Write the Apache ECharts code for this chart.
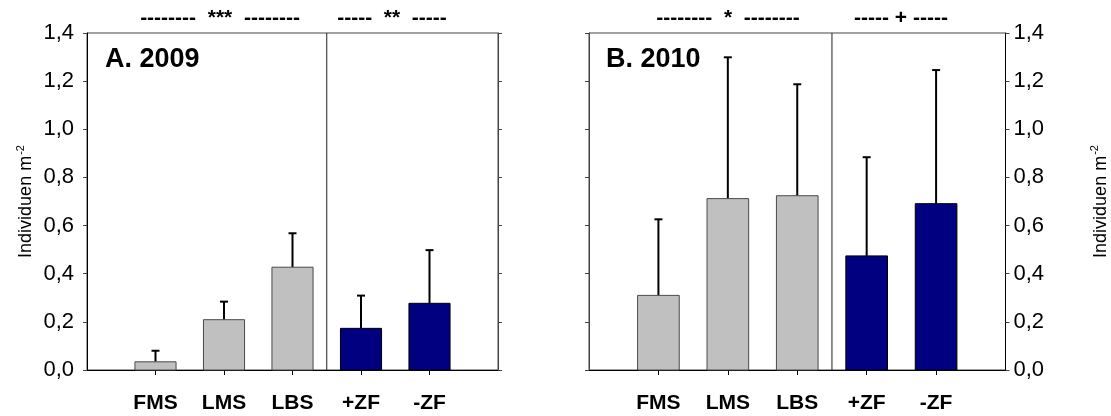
<!DOCTYPE html>
<html>
<head>
<meta charset="utf-8">
<script src="https://cdn.jsdelivr.net/npm/echarts@6/dist/echarts.min.js"></script>
<style>
  html, body { margin: 0; padding: 0; background: #fff; }
  #chart { width: 1111px; height: 416px; }
</style>
</head>
<body>
<div id="chart"></div>
<script>
// Treatment groups (first three: habitat types, last two: with / without fence)
const categories = ['FMS', 'LMS', 'LBS', '+ZF', '-ZF'];

// Mean density (individuals per m²) and standard deviation, 2009
const mean2009 = [0.034, 0.209, 0.427, 0.173, 0.277];
const sd2009   = [0.046, 0.075, 0.141, 0.136, 0.221];

// Mean density and standard deviation, 2010
const mean2010 = [0.310, 0.712, 0.724, 0.474, 0.691];
const sd2010   = [0.316, 0.587, 0.463, 0.410, 0.555];

// Y axis ticks
const yMin = 0, yMax = 1.4, yStep = 0.2;

// Significance markers above each comparison group
const sig2009 = ['--------  ***  --------', '-----  **  -----'];
const sig2010 = ['--------  *  --------', '----- + -----'];

const FONT = '"Liberation Sans", Arial, sans-serif';
const GREY = '#c0c0c0', NAVY = '#000080';
const groupSize = 3; // first three categories belong to the habitat comparison

const chart = echarts.init(document.getElementById('chart'), null, { renderer: 'canvas' });

function toPoints(means, sds) {
  return means.map((m, i) => [i + 1, m, sds[i]]);
}

const fmt = v => v.toFixed(1).replace('.', ',');

function barSeries(grid, yIdx, means, sds) {
  return {
    type: 'custom',
    xAxisIndex: grid, yAxisIndex: yIdx,
    data: toPoints(means, sds),
    renderItem(params, api) {
      const x = api.value(0), y = api.value(1);
      const p0 = api.coord([x - 0.3, y]);
      const p1 = api.coord([x + 0.3, 0]);
      const isGroup1 = x <= groupSize;
      return {
        type: 'rect',
        shape: { x: p0[0], y: p0[1], width: p1[0] - p0[0], height: p1[1] - p0[1] },
        style: { fill: isGroup1 ? GREY : NAVY, stroke: isGroup1 ? '#4a4a4a' : '#000', lineWidth: 1 }
      };
    },
    z: 3
  };
}

function errSeries(grid, yIdx, means, sds) {
  return {
    type: 'custom',
    xAxisIndex: grid, yAxisIndex: yIdx,
    data: toPoints(means, sds),
    renderItem(params, api) {
      const x = api.value(0), y = api.value(1), e = api.value(2);
      const b = api.coord([x, y]);
      const t = api.coord([x, y + e]);
      return {
        type: 'group',
        children: [
          { type: 'line', shape: { x1: b[0], y1: b[1], x2: t[0], y2: t[1] }, style: { stroke: '#000', lineWidth: 2 } },
          { type: 'line', shape: { x1: t[0] - 4, y1: t[1], x2: t[0] + 4, y2: t[1] }, style: { stroke: '#000', lineWidth: 2 } }
        ]
      };
    },
    z: 2
  };
}

function dividerSeries(grid, yIdx) {
  return {
    type: 'custom',
    xAxisIndex: grid, yAxisIndex: yIdx,
    data: [[groupSize + 0.5]],
    renderItem(params, api) {
      const x = api.value(0);
      const a = api.coord([x, yMin]);
      const b = api.coord([x, yMax]);
      return { type: 'line', shape: { x1: a[0], y1: a[1], x2: b[0], y2: b[1] }, style: { stroke: '#222', lineWidth: 1 } };
    },
    z: 1
  };
}

function xAxis(grid) {
  const ticks = categories.map((c, i) => i + 1);
  return {
    type: 'value', gridIndex: grid, min: 0, max: categories.length + 1,
    splitLine: { show: false },
    axisLine: { lineStyle: { color: '#000', width: 1 } },
    axisTick: { customValues: ticks, length: 5, lineStyle: { color: '#000' } },
    axisLabel: {
      customValues: ticks,
      formatter: v => categories[v - 1] || '',
      color: '#000', fontFamily: FONT, fontWeight: 'bold', fontSize: 21, margin: 23
    }
  };
}

const yName = '{a|Individuen m}{s|-2}';
const yNameStyle = {
  color: '#000', fontFamily: FONT,
  rich: {
    a: { fontSize: 18, fontFamily: FONT, color: '#000' },
    s: { fontSize: 11, fontFamily: FONT, color: '#000', padding: [0, 0, 12, 1] }
  }
};

function yAxis(grid, position, labelled, gap) {
  return {
    type: 'value', gridIndex: grid, position,
    min: yMin, max: yMax, interval: yStep,
    splitLine: { show: false },
    axisLine: { show: true, lineStyle: { color: labelled ? '#000' : '#444', width: 1 } },
    axisTick: { show: true, length: 4, lineStyle: { color: '#444' } },
    axisLabel: { show: labelled, formatter: fmt, color: '#000', fontFamily: FONT, fontSize: 22, margin: position === 'left' ? 13 : 8 },
    name: labelled ? yName : '',
    nameLocation: 'middle', nameRotate: 90, nameGap: gap || 0,
    nameTextStyle: yNameStyle
  };
}

function text(x, y, str, font, align) {
  return {
    type: 'text', x, y,
    style: { text: str, font, fill: '#000', align: align || 'center', verticalAlign: 'middle' }
  };
}

chart.setOption({
  animation: false,
  grid: [
    { left: 87, top: 33, width: 411, height: 337, show: true, borderColor: '#444', borderWidth: 1 },
    { left: 589, top: 33, width: 417, height: 337, show: true, borderColor: '#444', borderWidth: 1 }
  ],
  xAxis: [xAxis(0), xAxis(1)],
  yAxis: [yAxis(0, 'left', true, 49), yAxis(0, 'right', false), yAxis(1, 'left', false), yAxis(1, 'right', true, 84)],
  series: [
    dividerSeries(0, 0), barSeries(0, 0, mean2009, sd2009), errSeries(0, 0, mean2009, sd2009),
    dividerSeries(1, 3), barSeries(1, 3, mean2010, sd2010), errSeries(1, 3, mean2010, sd2010)
  ],
  graphic: [
    text(105, 60, 'A. 2009', 'bold 27px ' + FONT, 'left'),
    text(606, 60, 'B. 2010', 'bold 27px ' + FONT, 'left'),
    text(220, 18, sig2009[0], 'bold 21px ' + FONT),
    text(392, 18, sig2009[1], 'bold 21px ' + FONT),
    text(728, 18, sig2010[0], 'bold 21px ' + FONT),
    text(901, 18, sig2010[1], 'bold 21px ' + FONT)
  ]
});
</script>
</body>
</html>
